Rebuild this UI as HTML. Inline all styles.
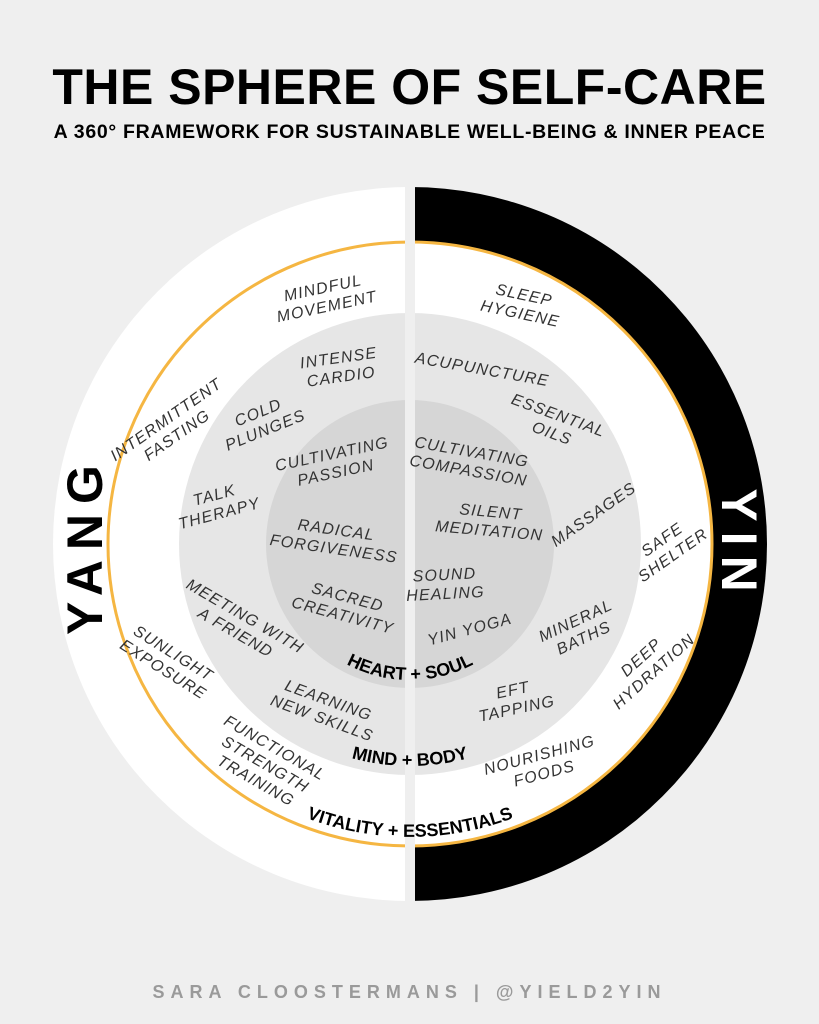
<!DOCTYPE html>
<html><head><meta charset="utf-8"><style>
html,body{margin:0;padding:0}
body{width:819px;height:1024px;background:#efefef;position:relative;overflow:hidden;font-family:"Liberation Sans",sans-serif}
.t{position:absolute;left:0;width:819px;text-align:center;font-weight:bold;color:#000}
.h{position:absolute;transform:translate(-50%,-50%);font-style:italic;font-size:16px;line-height:19px;color:#333;text-align:center;white-space:nowrap;letter-spacing:1.2px;font-weight:normal}
</style></head><body>
<div class="t" style="top:59px;font-size:50px;letter-spacing:0.5px;line-height:56px">THE SPHERE OF SELF-CARE</div>
<div class="t" style="top:121px;font-size:19.5px;letter-spacing:0.7px">A 360° FRAMEWORK FOR SUSTAINABLE WELL-BEING &amp; INNER PEACE</div>
<svg width="819" height="1024" style="position:absolute;left:0;top:0" viewBox="0 0 819 1024">
<defs>
<path id="a1" d="M274,544 A136,136 0 0 0 546,544"/>
<path id="a2" d="M188,544 A222,222 0 0 0 632,544"/>
<path id="a3" d="M117,544 A293,293 0 0 0 703,544"/>
</defs>
<path d="M410,187 A357,357 0 0 0 410,901 Z" fill="#fff"/>
<path d="M410,187 A357,357 0 0 1 410,901 Z" fill="#000"/>
<circle cx="410" cy="544" r="302" fill="#fff" stroke="#f5b642" stroke-width="3"/>
<circle cx="410" cy="544" r="231" fill="#e6e6e6"/>
<circle cx="410" cy="544" r="144" fill="#d6d6d6"/>
<rect x="405" y="180" width="10" height="730" fill="#efefef"/>
<text font-family="Liberation Sans" font-weight="bold" font-size="18" text-anchor="middle"><textPath href="#a1" startOffset="50%">HEART + SOUL</textPath></text>
<text font-family="Liberation Sans" font-weight="bold" font-size="18" text-anchor="middle"><textPath href="#a2" startOffset="50%">MIND + BODY</textPath></text>
<text font-family="Liberation Sans" font-weight="bold" font-size="18" text-anchor="middle"><textPath href="#a3" startOffset="50%">VITALITY + ESSENTIALS</textPath></text>
<text x="0" y="0" transform="translate(102,545) rotate(-90)" font-family="Liberation Sans" font-weight="bold" font-size="50" letter-spacing="10" text-anchor="middle">YANG</text>
<text x="0" y="0" transform="translate(722,545) rotate(90)" font-family="Liberation Sans" font-weight="bold" font-size="50" letter-spacing="10" text-anchor="middle" fill="#fff">YIN</text>
</svg>
<div class="h" style="left:325px;top:298px;transform:translate(-50%,-50%) rotate(-12deg)">MINDFUL<br>MOVEMENT</div>
<div class="h" style="left:522px;top:305px;transform:translate(-50%,-50%) rotate(12deg)">SLEEP<br>HYGIENE</div>
<div class="h" style="left:340px;top:368px;transform:translate(-50%,-50%) rotate(-8deg)">INTENSE<br>CARDIO</div>
<div class="h" style="left:482px;top:370px;transform:translate(-50%,-50%) rotate(10deg)">ACUPUNCTURE</div>
<div class="h" style="left:172px;top:428px;transform:translate(-50%,-50%) rotate(-35deg)">INTERMITTENT<br>FASTING</div>
<div class="h" style="left:262px;top:422px;transform:translate(-50%,-50%) rotate(-22deg)">COLD<br>PLUNGES</div>
<div class="h" style="left:555px;top:425px;transform:translate(-50%,-50%) rotate(20deg)">ESSENTIAL<br>OILS</div>
<div class="h" style="left:334px;top:464px;transform:translate(-50%,-50%) rotate(-12deg)">CULTIVATING<br>PASSION</div>
<div class="h" style="left:470px;top:462px;transform:translate(-50%,-50%) rotate(10deg)">CULTIVATING<br>COMPASSION</div>
<div class="h" style="left:217px;top:505px;transform:translate(-50%,-50%) rotate(-15deg)">TALK<br>THERAPY</div>
<div class="h" style="left:490px;top:522px;transform:translate(-50%,-50%) rotate(5deg)">SILENT<br>MEDITATION</div>
<div class="h" style="left:594px;top:515px;transform:translate(-50%,-50%) rotate(-35deg)">MASSAGES</div>
<div class="h" style="left:668px;top:548px;transform:translate(-50%,-50%) rotate(-35deg)">SAFE<br>SHELTER</div>
<div class="h" style="left:335px;top:540px;transform:translate(-50%,-50%) rotate(8deg)">RADICAL<br>FORGIVENESS</div>
<div class="h" style="left:445px;top:585px;transform:translate(-50%,-50%) rotate(-3deg)">SOUND<br>HEALING</div>
<div class="h" style="left:345px;top:607px;transform:translate(-50%,-50%) rotate(15deg)">SACRED<br>CREATIVITY</div>
<div class="h" style="left:240px;top:625px;transform:translate(-50%,-50%) rotate(30deg)">MEETING WITH<br>A FRIEND</div>
<div class="h" style="left:470px;top:630px;transform:translate(-50%,-50%) rotate(-15deg)">YIN YOGA</div>
<div class="h" style="left:580px;top:630px;transform:translate(-50%,-50%) rotate(-25deg)">MINERAL<br>BATHS</div>
<div class="h" style="left:168px;top:662px;transform:translate(-50%,-50%) rotate(32deg)">SUNLIGHT<br>EXPOSURE</div>
<div class="h" style="left:648px;top:665px;transform:translate(-50%,-50%) rotate(-42deg)">DEEP<br>HYDRATION</div>
<div class="h" style="left:325px;top:710px;transform:translate(-50%,-50%) rotate(20deg)">LEARNING<br>NEW SKILLS</div>
<div class="h" style="left:515px;top:700px;transform:translate(-50%,-50%) rotate(-12deg)">EFT<br>TAPPING</div>
<div class="h" style="left:265px;top:765px;transform:translate(-50%,-50%) rotate(30deg)">FUNCTIONAL<br>STRENGTH<br>TRAINING</div>
<div class="h" style="left:542px;top:765px;transform:translate(-50%,-50%) rotate(-15deg)">NOURISHING<br>FOODS</div>
<div class="t" style="top:982px;font-size:18px;letter-spacing:6px;color:#9a9a9a">SARA CLOOSTERMANS | @YIELD2YIN</div>
</body></html>
